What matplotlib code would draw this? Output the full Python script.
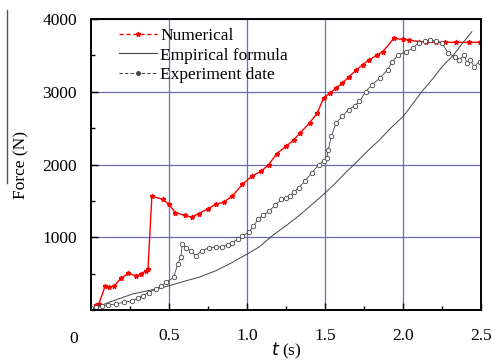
import matplotlib.pyplot as plt
from matplotlib.lines import Line2D
from matplotlib.ticker import MultipleLocator

plt.rcParams['font.family'] = ['Liberation Serif', 'DejaVu Serif']

# Numerical (red)
num_t = [0.03, 0.05, 0.09, 0.115, 0.15, 0.19, 0.24, 0.29, 0.32, 0.35, 0.365, 0.39,
         0.46, 0.5, 0.54, 0.6, 0.645, 0.69, 0.75, 0.80, 0.85, 0.905, 0.97, 1.03,
         1.09, 1.14, 1.19, 1.25, 1.30, 1.34, 1.40, 1.45, 1.49, 1.53, 1.57, 1.61,
         1.65, 1.70, 1.74, 1.78, 1.83, 1.87, 1.94, 2.0, 2.04, 2.10, 2.145, 2.21,
         2.27, 2.34, 2.42, 2.49]
num_f = [68, 82, 325, 310, 333, 434, 502, 470, 493, 539, 561, 1566,
         1520, 1452, 1338, 1301, 1278, 1324, 1393, 1452, 1484, 1566, 1726, 1840,
         1908, 2000, 2151, 2251, 2342, 2434, 2571, 2708, 2913, 2982, 3050, 3119,
         3200, 3301, 3370, 3438, 3500, 3552, 3735, 3720, 3712, 3690, 3685, 3680,
         3680, 3680, 3680, 3680]

# Empirical formula (gray solid)
emp_t = [0.01, 0.115, 0.265, 0.415, 0.5, 0.61, 0.69, 0.80, 0.905, 0.95, 1.0,
         1.08, 1.16, 1.25, 1.33, 1.41, 1.49, 1.56, 1.63, 1.70, 1.77, 1.85, 1.92,
         2.0, 2.06, 2.12, 2.19, 2.25, 2.32, 2.38, 2.44]
emp_f = [14, 105, 219, 288, 333, 402, 448, 539, 653, 710, 767,
         870, 1018, 1160, 1292, 1440, 1589, 1730, 1886, 2030, 2182, 2342, 2500,
         2662, 2830, 3004, 3180, 3347, 3500, 3667, 3826]

# Experiment date (gray dashed, open circles)
exp_t = [0.0, 0.03, 0.07, 0.11, 0.16, 0.21, 0.265, 0.30, 0.33, 0.37, 0.415, 0.45,
         0.48, 0.53, 0.555, 0.575, 0.585, 0.61, 0.64, 0.67, 0.71, 0.755, 0.80,
         0.84, 0.875, 0.905, 0.94, 0.97, 1.01, 1.04, 1.07, 1.10, 1.14, 1.18, 1.22,
         1.25, 1.275, 1.30, 1.33, 1.37, 1.415, 1.46, 1.49, 1.51, 1.52, 1.54, 1.57,
         1.61, 1.65, 1.69, 1.72, 1.76, 1.80, 1.85, 1.90, 1.93, 1.97, 2.02, 2.06,
         2.10, 2.14, 2.17, 2.21, 2.25, 2.29, 2.33, 2.36, 2.39, 2.41, 2.43, 2.455,
         2.49]
exp_f = [23, 40, 59, 70, 82, 105, 128, 160, 196, 240, 288, 330,
         379, 448, 630, 722, 904, 858, 810, 744, 813, 858, 862,
         867, 895, 927, 970, 1018, 1070, 1150, 1247, 1300, 1360, 1440, 1521,
         1545, 1566, 1620, 1681, 1772, 1886, 2000, 2050, 2091, 2205, 2388, 2571,
         2662, 2753, 2810, 2867, 3004, 3096, 3187, 3301, 3415, 3507, 3552, 3598,
         3676, 3700, 3712, 3703, 3667, 3530, 3484, 3438, 3507, 3393, 3438, 3347,
         3415]

fig = plt.figure(figsize=(4.92, 3.6), dpi=100)
ax = fig.add_axes([0.185, 0.139, 0.793, 0.808])

ax.plot(num_t, num_f, color="red", linewidth=1.0,
        marker="*", markersize=3.5, label="Numerical")
ax.plot(emp_t, emp_f, color="#444444", linewidth=0.7, label="Empirical formula")
ax.plot(exp_t, exp_f, color="#444444", linewidth=0.6,
        marker="o", markersize=3.2, markerfacecolor="white", markeredgewidth=0.6,
        label="Experiment date")

ax.set_xlim(0, 2.5)
ax.set_ylim(0, 4000)
ax.set_xticks([0.5, 1.0, 1.5, 2.0, 2.5])
ax.set_xticklabels(["0.5", "1.0", "1.5", "2.0", "2.5"])
ax.set_yticks([1000, 2000, 3000, 4000])
ax.xaxis.set_minor_locator(MultipleLocator(0.25))
ax.yaxis.set_minor_locator(MultipleLocator(500))
ax.tick_params(which="both", direction="in", labelsize=12.5)
ax.tick_params(which="major", length=5, width=1, pad=13)
ax.tick_params(which="minor", length=3, width=1)
ax.tick_params(axis="y", pad=10)
ax.text(-0.045, -0.073, "0", transform=ax.transAxes, ha="center", va="top", fontsize=12.5)

ax.grid(True, which="major", color="#6a6ab8", linewidth=0.9)
for s in ax.spines.values():
    s.set_linewidth(1.4)

ax.set_xlabel("$\\mathit{t}$ (s)", fontsize=12.5, labelpad=-2)
ax.set_ylabel("Force (N)", fontsize=12.5)
ax.yaxis.set_label_coords(-0.158, 0.5)

# legend handles drawn dashed like the reference key
handles = [
    Line2D([], [], color="red", linestyle="--", dashes=(3, 2), linewidth=1.0,
           marker="*", markersize=3.5),
    Line2D([], [], color="#444444", linewidth=0.8),
    Line2D([], [], color="#444444", linestyle="--", dashes=(3, 2), linewidth=0.8,
           marker="o", markersize=2.5, markerfacecolor="#444444"),
]
labels = ["Numerical", "Empirical formula", "Experiment date"]
ax.legend(handles, labels, loc="upper left", frameon=False, fontsize=12.5,
          handlelength=2.2, handletextpad=0.15, labelspacing=0.2, borderaxespad=0.1,
          bbox_to_anchor=(0.05, 1.0))

fig.add_artist(Line2D([7 / 492, 7 / 492], [1 - 10 / 360, 1 - 183 / 360],
                      color="#555555", linewidth=1.0))

fig.savefig("out.png", dpi=100)
